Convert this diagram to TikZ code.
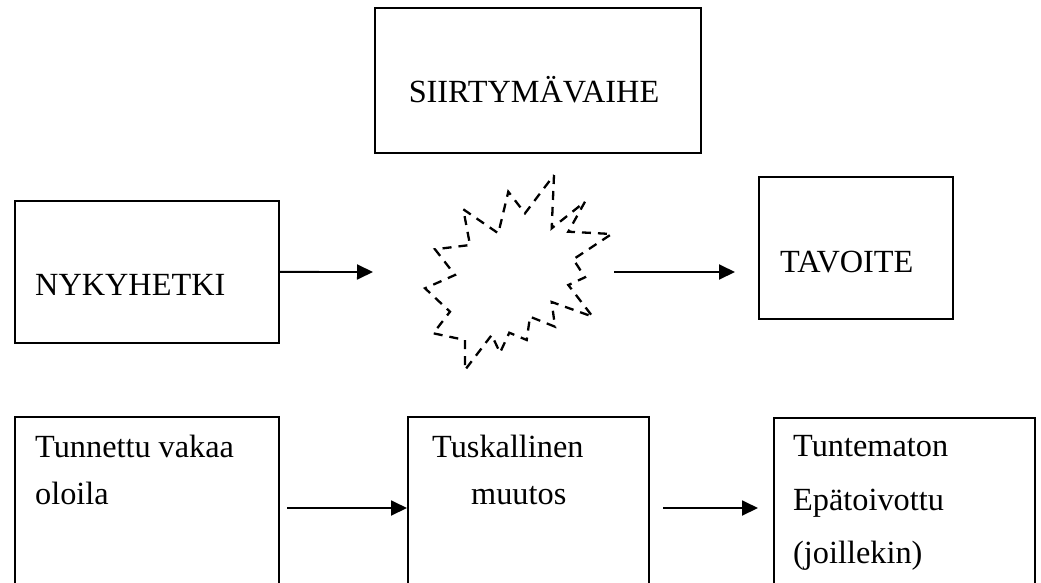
\documentclass[tikz,border=0pt]{standalone}
\usepackage{fontspec}
\setmainfont{Liberation Serif}
\usetikzlibrary{arrows.meta}
\tikzset{
  boxshape/.style={draw=black, line width=1.8pt, rectangle, inner sep=0pt, anchor=north west},
  lbl/.style={inner sep=0pt, anchor=base west, font=\fontsize{32.3}{38}\selectfont},
  conn/.style={line width=1.9pt, -{Triangle[length=16pt,width=15pt]}},
  burst/.style={line width=2.3pt, dash pattern=on 9pt off 7pt, line join=miter}
}
\begin{document}
\begin{tikzpicture}[x=1pt,y=-1pt]
\clip (0,0) rectangle (1041,582);
\fill[white] (0,0) rectangle (1041,582);
% boxes
\node[boxshape, minimum width=326pt, minimum height=145pt] (trans) at (374,7) {};
\node[boxshape, minimum width=264pt, minimum height=142pt] (now) at (14,200) {};
\node[boxshape, minimum width=194pt, minimum height=142pt] (goal) at (758,176) {};
\node[boxshape, minimum width=264pt, minimum height=200pt] (known) at (14,416) {};
\node[boxshape, minimum width=241pt, minimum height=200pt] (pain) at (407,416) {};
\node[boxshape, minimum width=261pt, minimum height=200pt] (unknown) at (773,417) {};
% texts
\node[lbl, anchor=base] (ttrans) at (534,102) {SIIRTYMÄVAIHE};
\node[lbl] (tnow) at (35,295) {NYKYHETKI};
\node[lbl] (tgoal) at (780,272) {TAVOITE};
\node[lbl] (tk1) at (35,457) {Tunnettu vakaa};
\node[lbl] (tk2) at (35,504) {oloila};
\node[lbl] (tp1) at (432,457) {Tuskallinen};
\node[lbl] (tp2) at (471,504) {muutos};
\node[lbl] (tu1) at (793,456) {Tuntematon};
\node[lbl] (tu2) at (793,510) {Epätoivottu};
\node[lbl] (tu3) at (793,563) {(joillekin)};
% starburst
\draw[burst] (554,175) -- (551.7,228.3) -- (585,201.7) -- (568.3,231.7) -- (611.7,234)
  -- (573.3,259.3) -- (585,277.3) -- (568.3,285) -- (592.7,316.7) -- (551.7,302)
  -- (555,326.7) -- (530,316.7) -- (526.7,340) -- (509.3,332.7) -- (500,352.7)
  -- (491.7,335) -- (465,370) -- (465,340) -- (433.3,333.3) -- (450,311.7)
  -- (425,288.3) -- (455,275) -- (435,249.3) -- (470,245) -- (463.3,209.3)
  -- (498.3,233.3) -- (508.3,191.7) -- (525,213.3) -- cycle;
% connector end points
\coordinate (a1e) at (373,272);
\coordinate (a2s) at (614,272);
\coordinate (a2e) at (735,272);
\coordinate (b1s) at (287,508);
\coordinate (b1e) at (pain.west |- b1s);
\coordinate (b2s) at (663,508);
\coordinate (b2e) at (758,508);
% connectors
\draw[conn] (now.east) -- (a1e);
\draw[conn] (a2s) -- (a2e);
\draw[conn] (b1s) -- (b1e);
\draw[conn] (b2s) -- (b2e);
\end{tikzpicture}
\end{document}
